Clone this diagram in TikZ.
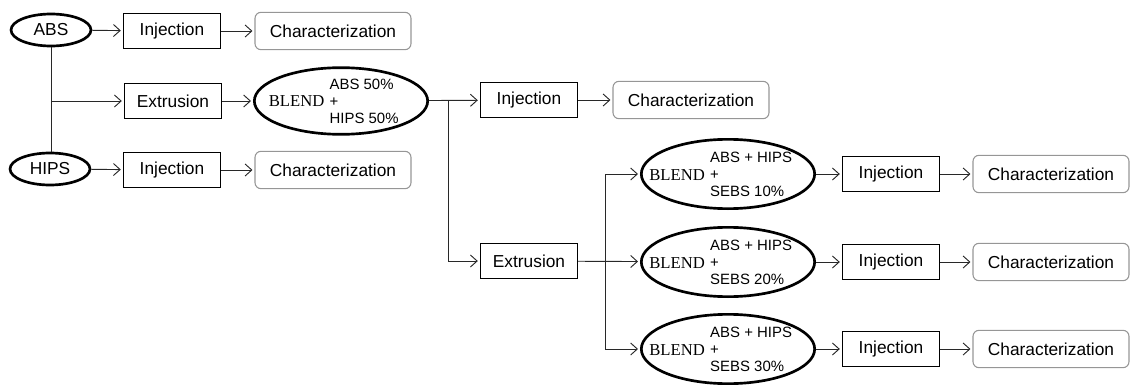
\documentclass[tikz,border=0pt]{standalone}
\usepackage{fontspec}
\setmainfont{Liberation Sans}
\newfontfamily\blendfont{Liberation Serif}
\usetikzlibrary{shapes.geometric,arrows.meta,calc}
\definecolor{cline}{RGB}{40,40,40}
\definecolor{cgrey}{RGB}{150,150,150}
\tikzset{
  flow/.style={x=0.75pt,y=-0.75pt,font=\fontsize{13}{15}\selectfont,>={Straight Barb[length=5pt,width=9pt]}},
  material/.style={ellipse,draw,line width=2pt,minimum width=60pt,minimum height=24pt,inner sep=0pt},
  procbox/.style={rectangle,draw,line width=0.8pt,minimum width=73pt,minimum height=26pt,inner sep=0pt},
  charbox/.style={rectangle,rounded corners=4.5pt,draw=cgrey,line width=0.8pt,minimum width=117pt,minimum height=28pt,inner sep=0pt},
  blendnode/.style={ellipse,draw,line width=2pt,minimum width=130pt,minimum height=52pt,inner sep=0pt},
  link/.style={->,draw=cline,line width=0.7pt,shorten >=1.5pt}
}
\newcommand{\blendlabel}[2]{\makebox[0pt]{\raisebox{-4.5pt}[0pt][0pt]{{\blendfont\fontsize{12.5}{14}\selectfont BLEND}\hspace{4pt}{\fontsize{11.2}{12.75}\selectfont\begin{tabular}[c]{@{}l@{}}#1\\+\\#2\end{tabular}}\hspace{11pt}}}}

\begin{document}
\begin{tikzpicture}[flow]
  \useasboundingbox (0,0) rectangle (1132,385);
  \node[material] (abs) at (51,30) {ABS};
  \node[procbox] (injA) at (172,31) {Injection};
  \node[charbox] (charA) at (333,31) {Characterization};
  \node[procbox] (ext1) at (173,101) {Extrusion};
  \node[blendnode,minimum height=50pt] (blend1) at (341,101) {\blendlabel{ABS 50\%}{HIPS 50\%}};
  \node[material] (hips) at (50,169) {HIPS};
  \node[procbox] (injC) at (172,170) {Injection};
  \node[charbox] (charC) at (333,170) {Characterization};
  \node[procbox] (injB) at (529,100) {Injection};
  \node[charbox] (charB) at (691,100) {Characterization};
  \node[procbox] (ext2) at (529,261) {Extrusion};
  \foreach \p/\y in {10/174,20/262,30/349}{
    \node[blendnode] (blend\p) at (728,\y) {\blendlabel{ABS + HIPS}{SEBS \p\%}};
    \node[procbox] (inj\p) at (891,\y) {Injection};
    \node[charbox] (char\p) at (1051,\y) {Characterization};
    \draw[link] (blend\p) -- (inj\p);
    \draw[link] (inj\p) -- (char\p);
  }
  \draw[link] (abs) -- (injA);
  \draw[link] (injA) -- (charA);
  \draw[link] (hips) -- (injC);
  \draw[link] (injC) -- (charC);
  \draw[cline,line width=0.7pt] (abs.south) -- (abs.south |- hips.north);
  \draw[link] (abs.south |- ext1) -- (ext1);
  \draw[link] (ext1) -- (blend1);
  \draw[link] (blend1) -- (injB);
  \draw[link] (injB) -- (charB);
  \coordinate (split1) at ($(blend1.east)!0.38!(injB.west)$);
  \draw[link] (split1) |- (ext2);
  \draw[link] (ext2) -- (blend20);
  \coordinate (split2) at ($(ext2.east)!0.44!(blend20.west)$);
  \draw[link] (split2) |- (blend10);
  \draw[link] (split2) |- (blend30);
\end{tikzpicture}
\end{document}
